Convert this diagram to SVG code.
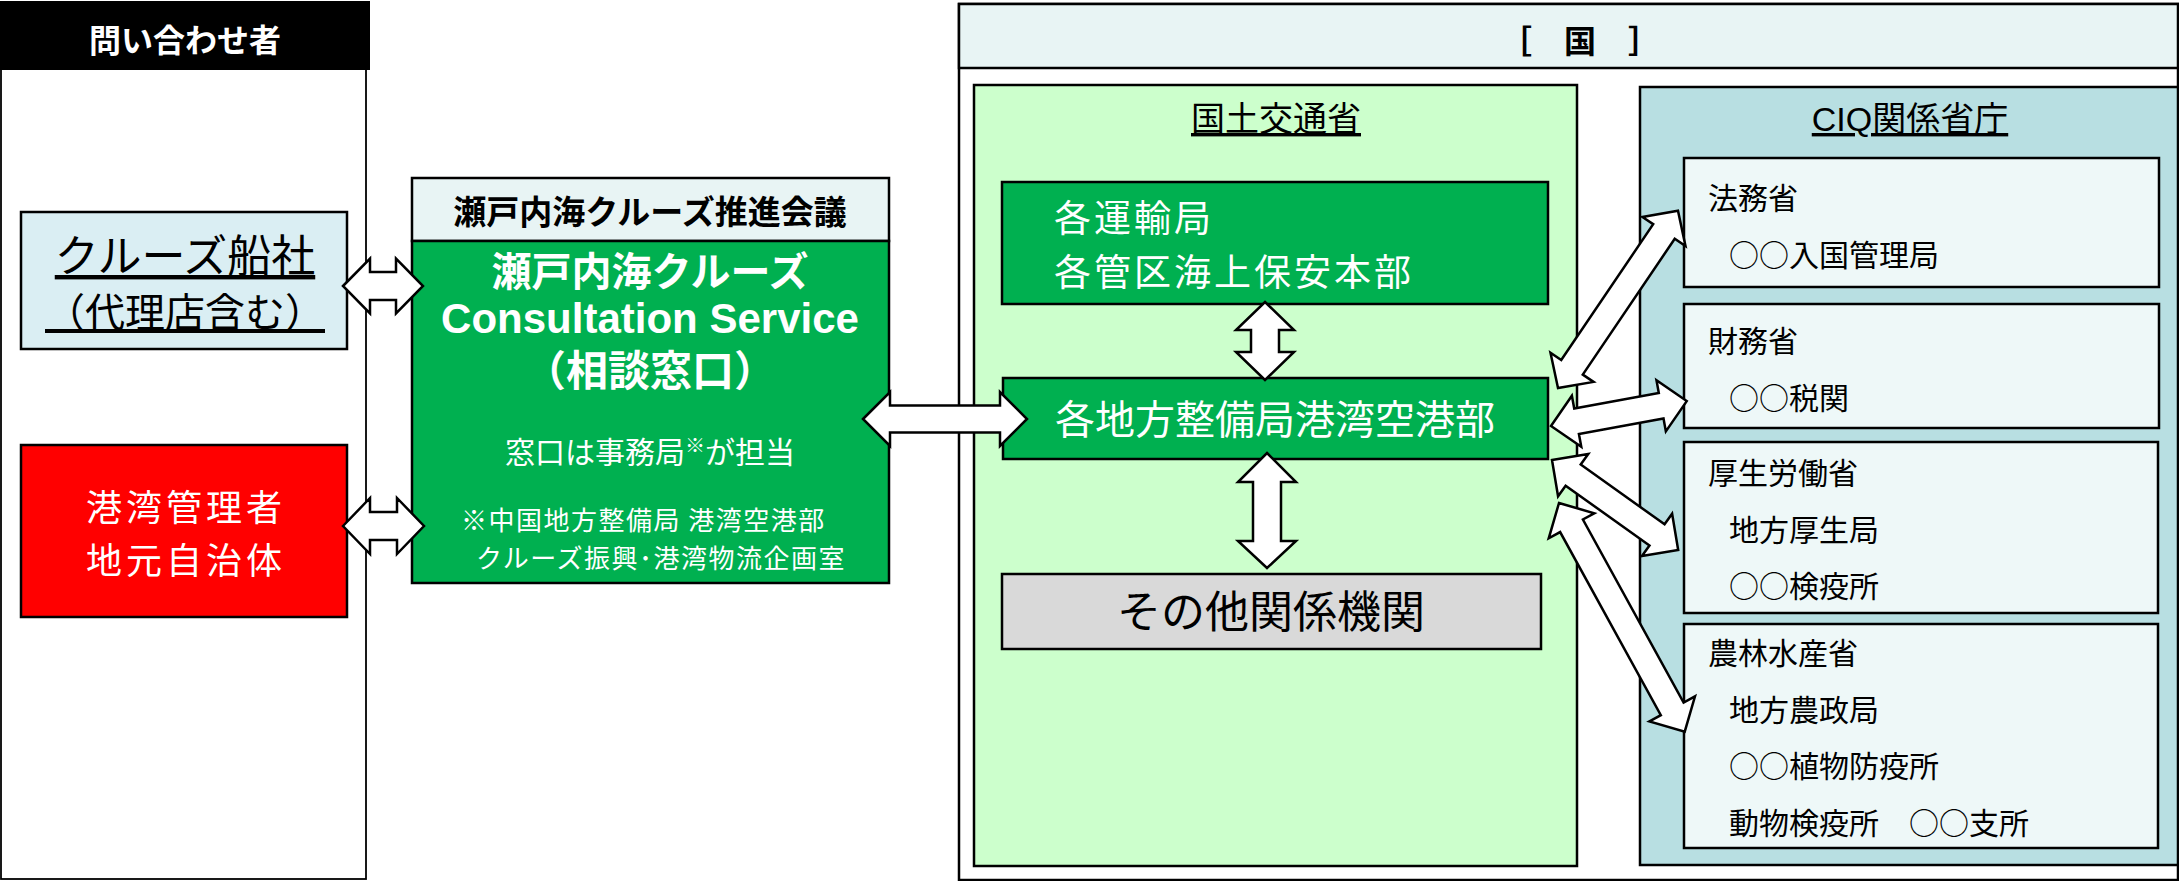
<svg xmlns="http://www.w3.org/2000/svg" width="2179" height="881" viewBox="0 0 2179 881">
<style>
  text { font-family: "Noto Sans CJK JP", "Noto Sans CJK SC", sans-serif; }
  .lat { font-family: "Liberation Sans", "Noto Sans CJK JP", sans-serif; }
  .box { stroke: #000; stroke-width: 2.5; }
  .thin { stroke: #000; stroke-width: 1.8; }
  .arrow { fill: #fff; stroke: #000; stroke-width: 2.5; stroke-linejoin: miter; }
  .ul { text-decoration: underline; }
  .w { fill: #fff; }
  .k { fill: #000; }
  .b { font-weight: bold; }
</style>

<g id="inquirers">
  <rect x="1" y="2" width="365" height="877" fill="#fff" class="thin"/>
  <rect x="0" y="1" width="370" height="69" fill="#000"/>
  <text x="185" y="52" font-size="32" text-anchor="middle" class="w b">問い合わせ者</text>
</g>

<g id="cruise-lines">
  <rect x="21" y="212" width="326" height="137" fill="#DAEEF3" class="box"/>
  <text text-anchor="middle" class="k ul"><tspan x="185" y="272" font-size="44">クルーズ船社</tspan><tspan x="185" y="327" font-size="40">（代理店含む）</tspan></text>
</g>

<g id="port-authorities">
  <rect x="21" y="445" width="326" height="172" fill="#FF0000" class="box"/>
  <text x="186" y="521" font-size="36" letter-spacing="4" text-anchor="middle" class="w">港湾管理者</text>
  <text x="186" y="574" font-size="36" letter-spacing="4" text-anchor="middle" class="w">地元自治体</text>
</g>

<g id="setouchi-service">
  <rect x="412" y="178" width="477" height="63" fill="#E8F4F4" class="box"/>
  <text x="650" y="224" font-size="33" text-anchor="middle" class="k b">瀬戸内海クルーズ推進会議</text>
  <rect x="412" y="241" width="477" height="342" fill="#00B050" class="box"/>
  <text x="650" y="286" font-size="40" text-anchor="middle" class="w b">瀬戸内海クルーズ</text>
  <text x="650" y="333" font-size="42" text-anchor="middle" class="w b lat">Consultation Service</text>
  <text x="650" y="386" font-size="42" text-anchor="middle" class="w b">（相談窓口）</text>
  <text x="650" y="463" font-size="30" text-anchor="middle" class="w">窓口は事務局<tspan font-size="20" dy="-10">※</tspan><tspan dy="10">が担当</tspan></text>
  <text x="461" y="530" font-size="26" letter-spacing="1.5" class="w">※中国地方整備局 港湾空港部</text>
  <text x="476" y="568" font-size="26" letter-spacing="1.5" class="w">クルーズ振興･港湾物流企画室</text>
</g>

<g id="kuni">
  <rect x="959" y="4" width="1219" height="876" fill="#fff" class="box"/>
  <rect x="959" y="4" width="1219" height="64" fill="#E8F4F4" class="box"/>
  <text x="1580" y="53" font-size="32" text-anchor="middle" class="k b">［　国　］</text>
</g>

<g id="mlit">
  <rect x="974" y="85" width="603" height="781" fill="#CCFFCC" class="box"/>
  <text x="1276" y="131" font-size="34" text-anchor="middle" class="k ul">国土交通省</text>
</g>

<g id="transport-bureaus">
  <rect x="1002" y="182" width="546" height="122" fill="#00B050" class="box"/>
  <text x="1054" y="232" font-size="37" letter-spacing="3" class="w">各運輸局</text>
  <text x="1054" y="286" font-size="37" letter-spacing="3" class="w">各管区海上保安本部</text>
</g>

<g id="regional-bureaus">
  <rect x="1003" y="378" width="545" height="81" fill="#00B050" class="box"/>
  <text x="1055" y="434" font-size="40" class="w">各地方整備局港湾空港部</text>
</g>

<g id="other-agencies">
  <rect x="1002" y="574" width="539" height="75" fill="#D9D9D9" class="box"/>
  <text x="1271" y="628" font-size="44" text-anchor="middle" class="k">その他関係機関</text>
</g>

<g id="ciq">
  <rect x="1640" y="87" width="538" height="778" fill="#B8DFE2" class="box"/>
  <text x="1910" y="131" font-size="34" text-anchor="middle" class="k ul lat">CIQ関係省庁</text>
</g>

<g id="moj">
  <rect x="1684" y="158" width="475" height="129" fill="#EEF8F8" class="box"/>
  <text x="1708" y="209" font-size="30" class="k">法務省</text>
  <text x="1729" y="266" font-size="30" class="k">○○入国管理局</text>
</g>

<g id="mof">
  <rect x="1684" y="304" width="475" height="124" fill="#EEF8F8" class="box"/>
  <text x="1708" y="352" font-size="30" class="k">財務省</text>
  <text x="1729" y="409" font-size="30" class="k">○○税関</text>
</g>

<g id="mhlw">
  <rect x="1684" y="442" width="474" height="171" fill="#EEF8F8" class="box"/>
  <text x="1708" y="484" font-size="30" class="k">厚生労働省</text>
  <text x="1729" y="541" font-size="30" class="k">地方厚生局</text>
  <text x="1729" y="597" font-size="30" class="k">○○検疫所</text>
</g>

<g id="maff">
  <rect x="1684" y="624" width="474" height="224" fill="#EEF8F8" class="box"/>
  <text x="1708" y="664" font-size="30" class="k">農林水産省</text>
  <text x="1729" y="721" font-size="30" class="k">地方農政局</text>
  <text x="1729" y="777" font-size="30" class="k">○○植物防疫所</text>
  <text x="1729" y="834" font-size="30" class="k">動物検疫所　○○支所</text>
</g>

<g id="connectors">
  <polygon class="arrow" points="343,286 370,258.5 370,272 396,272 396,258.5 423,286 396,313.5 396,300 370,300 370,313.5"/>
  <polygon class="arrow" points="343,526 370,498 370,512 397,512 397,498 424,526 397,554 397,540 370,540 370,554"/>
  <polygon class="arrow" points="863,419 890,392 890,405.5 1000,405.5 1000,392 1027,419 1000,446 1000,432.5 890,432.5 890,446"/>
  <polygon class="arrow" points="1265,302 1294,330 1279,330 1279,352 1294,352 1265,380 1236,352 1251,352 1251,330 1236,330"/>
  <polygon class="arrow" points="1267,453 1296,482 1281,482 1281,541 1296,541 1267,568 1238,541 1253,541 1253,482 1238,482"/>
  <polygon class="arrow" transform="translate(1558,388) rotate(-55.9)" points="0,0 25,-26 25,-13 189,-13 189,-26 214,0 189,26 189,13 25,13 25,26"/>
  <polygon class="arrow" transform="translate(1551,426) rotate(-10.4)" points="0,0 26,-26 26,-13 112,-13 112,-26 138,0 112,26 112,13 26,13 26,26"/>
  <polygon class="arrow" transform="translate(1552,460) rotate(35.5)" points="0,0 26,-26 26,-13 129,-13 129,-26 155,0 129,26 129,13 26,13 26,26"/>
  <polygon class="arrow" transform="translate(1559,503) rotate(61.2)" points="0,0 26,-26 26,-13 235,-13 235,-26 261,0 235,26 235,13 26,13 26,26"/>
</g>
</svg>
